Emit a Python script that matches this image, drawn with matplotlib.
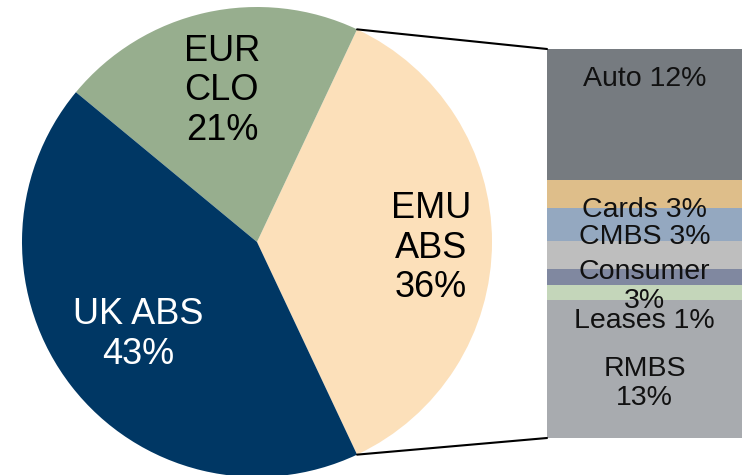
"""Bar-of-pie chart: portfolio split with EMU ABS broken down by collateral."""

import numpy as np
import matplotlib
matplotlib.use('Agg')
import matplotlib.pyplot as plt
from matplotlib.patches import ConnectionPatch

plt.rcParams['font.family'] = ['Liberation Sans', 'DejaVu Sans']

# Pie data (EMU ABS first, counter-clockwise)
pie_names = ['EMU\nABS', 'EUR\nCLO', 'UK ABS']
pie_values = [36, 21, 43]
pie_colors = ['#FCE0BA', '#97AE8E', '#003764']
pie_text_colors = ['black', 'black', 'white']

# EMU ABS breakdown, stacked bottom to top
bar_names = ['RMBS', 'Leases', 'Other', 'Consumer', 'CMBS', 'Cards', 'Auto']
bar_values = [12.8, 1.4, 1.5, 2.6, 3.0, 2.6, 12.2]
bar_labels = ['RMBS\n13%', 'Leases 1%', '', 'Consumer\n3%', 'CMBS 3%',
              'Cards 3%', 'Auto 12%']
bar_colors = ['#A8ABAF', '#C4D6BA', '#8088A0', '#BEBEBE', '#94A8C0',
              '#DEBE8A', '#767B80']

# label placement (layout only)
pie_label_dist = [0.74, 0.66, 0.64]
pie_label_turn = [-2.0, 0.5, 0.0]
bar_label_shift = [-1.3, -2.6, 0, -2.9, -1.15, -1.4, 3.3]

fig = plt.figure(figsize=(7.44, 4.75), dpi=100)
ax_pie = fig.add_axes([22 / 744, -2 / 475, 470 / 744, 470 / 475])
ax_bar = fig.add_axes([547 / 744, 37 / 475, 195 / 744, 389 / 475])

# Pie
half = pie_values[0] / sum(pie_values) * 360 / 2
wedges, _ = ax_pie.pie(pie_values, colors=pie_colors, startangle=-half,
                       counterclock=True, radius=1,
                       wedgeprops=dict(linewidth=0))
for w, name, val, dist, turn, tc in zip(wedges, pie_names, pie_values,
                                         pie_label_dist, pie_label_turn,
                                         pie_text_colors):
    ang = np.deg2rad((w.theta1 + w.theta2) / 2 + turn)
    ax_pie.text(dist * np.cos(ang), dist * np.sin(ang), f'{name}\n{val}%',
                ha='center', va='center', fontsize=26, color=tc,
                linespacing=1.18)
ax_pie.set_xlim(-1, 1)
ax_pie.set_ylim(-1, 1)
ax_pie.set_aspect('equal')
ax_pie.axis('off')

# Stacked bar
total = sum(bar_values)
bottom = 0
for val, lab, col, shift in zip(bar_values, bar_labels, bar_colors,
                                bar_label_shift):
    ax_bar.bar(0, val, bottom=bottom, width=1, color=col, linewidth=0)
    if lab:
        ax_bar.text(0, bottom + val / 2 + shift, lab, ha='center',
                    va='center', fontsize=20.5, color='#111111',
                    linespacing=1.15)
    bottom += val
ax_bar.set_xlim(-0.5, 0.5)
ax_bar.set_ylim(0, total)
ax_bar.axis('off')

# Connector lines from the EMU ABS wedge to the bar
theta1, theta2 = wedges[0].theta1, wedges[0].theta2
for theta, ybar in [(theta2, total), (theta1, 0)]:
    x = np.cos(np.deg2rad(theta))
    y = np.sin(np.deg2rad(theta))
    con = ConnectionPatch(xyA=(-0.5, ybar), coordsA=ax_bar.transData,
                          xyB=(x, y), coordsB=ax_pie.transData,
                          color='black', linewidth=1.5)
    fig.add_artist(con)

fig.savefig('out.png', dpi=100)
